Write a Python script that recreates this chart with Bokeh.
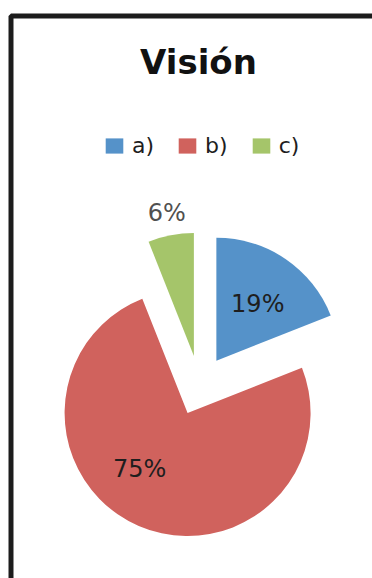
import numpy as np
from bokeh.plotting import figure
from bokeh.models import ColumnDataSource, Range1d, Legend, LegendItem, Label, BoxAnnotation
from bokeh.embed import file_html
from bokeh.resources import INLINE
from bokeh.core.properties import value

# ---- data ----
title = "Visión"
categories = ["a)", "b)", "c)"]
values = [19, 75, 6]
colors = ["#5592C9", "#D0625D", "#A5C56A"]

# ---- layout / style ----
W, H = 372, 578
FONT = "DejaVu Sans"
cx, cy = 199, H - 385          # pie centre (before explosion)
radius = 123
explode = 30
label_dist = [0.57, 0.60, 1.18]            # label distance as fraction of radius
label_turn = [-2.0, -17.0, 0.0]            # degrees, label angle tweak
label_colors = ["#1e1e1e", "#1e1e1e", "#505050"]

p = figure(width=W, height=H, output_backend="svg", toolbar_location=None,
           x_range=Range1d(0, W), y_range=Range1d(0, H), min_border=0,
           x_axis_location=None, y_axis_location=None)
p.grid.visible = False
p.outline_line_color = None
p.background_fill_color = "white"
p.border_fill_color = "white"

vals = np.array(values, dtype=float)
fr = vals / vals.sum()
cum = np.concatenate([[0.0], np.cumsum(fr)])
start = np.pi / 2 - 2 * np.pi * cum[:-1]
end = np.pi / 2 - 2 * np.pi * cum[1:]
mid = (start + end) / 2
xs = cx + explode * np.cos(mid)
ys = cy + explode * np.sin(mid)

src = ColumnDataSource(dict(x=xs, y=ys, start=start, end=end, color=colors, cat=categories))
wedges = p.wedge(x="x", y="y", radius=radius, start_angle="start", end_angle="end",
                 direction="clock", fill_color="color", line_color=None, source=src)

lang = mid + np.radians(label_turn)
lx = xs + np.array(label_dist) * radius * np.cos(lang)
ly = ys + np.array(label_dist) * radius * np.sin(lang)
pct = [f"{round(f * 100)}%" for f in fr]
lsrc = ColumnDataSource(dict(x=lx, y=ly, t=pct, c=label_colors))
p.text(x="x", y="y", text="t", text_color="c", source=lsrc,
       text_font=value(FONT), text_font_size="24px",
       text_align="center", text_baseline="middle")

# title
p.add_layout(Label(x=198, y=H - 61, text=title, text_align="center",
                   text_baseline="middle", text_font=FONT, text_font_style="bold",
                   text_font_size="34px", text_color="#111111"))

# legend
items = [LegendItem(label=c, renderers=[wedges], index=i) for i, c in enumerate(categories)]
legend = Legend(items=items, orientation="horizontal", location=(103, H - 158),
                glyph_width=22, glyph_height=19, label_standoff=7, spacing=22,
                padding=0, margin=0, border_line_alpha=0, background_fill_alpha=0,
                label_text_font=FONT, label_text_font_size="22px",
                label_text_color="#1e1e1e")
p.add_layout(legend, "center")

# frame border (extends past right/bottom of picture)
p.add_layout(BoxAnnotation(left=10.5, right=W + 20, top=H - 15.5, bottom=-20,
                           fill_alpha=0, line_color="#1c1c1c", line_alpha=1.0,
                           line_width=5))

open("out.html", "w").write(file_html(p, INLINE))
